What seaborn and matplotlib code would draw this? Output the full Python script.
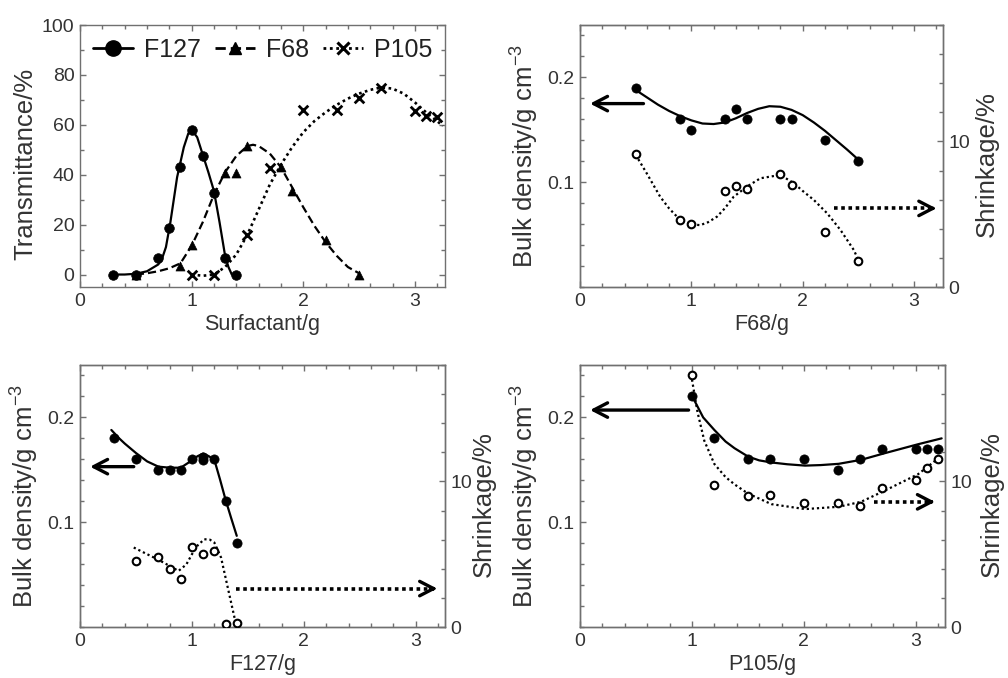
import numpy as np
import pandas as pd
import matplotlib
matplotlib.use("Agg")
import matplotlib.pyplot as plt
from matplotlib.lines import Line2D
from matplotlib.ticker import MultipleLocator
import seaborn as sns

sns.set_style("ticks")
plt.rcParams['font.family'] = ['Liberation Sans', 'DejaVu Sans']
plt.rcParams['mathtext.fontset'] = 'custom'
plt.rcParams['mathtext.rm'] = 'Liberation Sans'

TXT = '#333333'
SPN = '#707070'

# ---------------- Panel 1: transmittance ----------------
f127_x = [0.3, 0.5, 0.7, 0.8, 0.9, 1.0, 1.1, 1.2, 1.3, 1.4]
f127_t = [0, 0, 6.7, 18.5, 43, 58, 47.5, 32.5, 6.7, 0]
f68_x = [0.5, 0.9, 1.0, 1.3, 1.4, 1.5, 1.8, 1.9, 2.2, 2.5]
f68_t = [0, 3.5, 12, 40.8, 40.8, 51.7, 43.2, 33.4, 13.8, 0]
p105_x = [1.0, 1.2, 1.5, 1.7, 2.0, 2.3, 2.5, 2.7, 3.0, 3.1, 3.2]
p105_t = [0, 0, 16, 42.8, 66, 66, 70.6, 74.6, 65.6, 63.5, 63]

f127_fit_x = [0.3, 0.4, 0.5, 0.6, 0.7, 0.73, 0.77, 0.81, 0.87, 0.93, 0.97, 1.0, 1.05, 1.1, 1.15, 1.2, 1.25, 1.3, 1.33, 1.36]
f127_fit_t = [0, 0, 0.3, 1.3, 4, 5.7, 11, 21, 39, 51, 56.5, 58, 55, 48, 41, 33.5, 21, 7.5, 3, 0]
f68_fit_x = [0.5, 0.6, 0.7, 0.8, 0.9, 1.0, 1.1, 1.2, 1.3, 1.4, 1.5, 1.55, 1.6, 1.7, 1.8, 1.9, 2.0, 2.1, 2.2, 2.3, 2.4, 2.5]
f68_fit_t = [0, 0.5, 1.3, 2.5, 4.5, 11.5, 21, 32, 41, 47.5, 51.5, 52, 51.5, 48.5, 43, 35, 27, 19.5, 13, 7.5, 3, 0.5]
p105_fit_x = [1.0, 1.1, 1.2, 1.3, 1.4, 1.5, 1.6, 1.7, 1.8, 1.9, 2.0, 2.1, 2.2, 2.3, 2.4, 2.5, 2.6, 2.7, 2.8, 2.9, 3.0, 3.1, 3.2, 3.25]
p105_fit_t = [0, -0.5, 0, 3, 8, 16, 26, 36, 44, 51, 57, 61.5, 65, 68, 70.5, 72.5, 74, 75, 74.5, 72.5, 69, 65, 61.5, 59.5]

# ---------------- Panel 2: F68 ----------------
f68_x2 = [0.5, 0.9, 1.0, 1.3, 1.4, 1.5, 1.8, 1.9, 2.2, 2.5]
f68_bd = [0.19, 0.16, 0.15, 0.16, 0.17, 0.16, 0.16, 0.16, 0.14, 0.12]
f68_sh = [9.15, 4.6, 4.3, 6.6, 6.95, 6.7, 7.75, 7.0, 3.8, 1.77]
f68_bdfit_x = [0.5, 0.6, 0.7, 0.8, 0.9, 1.0, 1.1, 1.2, 1.3, 1.4, 1.5, 1.6, 1.7, 1.8, 1.9, 2.0, 2.1, 2.2, 2.3, 2.4, 2.5]
f68_bdfit = [0.188, 0.181, 0.174, 0.168, 0.163, 0.159, 0.156, 0.1555, 0.157, 0.161, 0.166, 0.170, 0.1725, 0.172, 0.169, 0.164, 0.157, 0.149, 0.140, 0.131, 0.1215]
f68_shfit_x = [0.5, 0.6, 0.72, 0.8, 0.9, 1.0, 1.08, 1.15, 1.23, 1.3, 1.38, 1.5, 1.62, 1.8, 1.92, 2.0, 2.1, 2.22, 2.34, 2.46, 2.5]
f68_shfit = [9.08, 7.8, 6.2, 5.4, 4.6, 4.3, 4.25, 4.45, 4.83, 5.4, 6.2, 6.9, 7.47, 7.7, 7.13, 6.6, 5.98, 5.06, 3.91, 2.53, 1.84]

# ---------------- Panel 3: F127 ----------------
f127_x3 = [0.3, 0.5, 0.7, 0.8, 0.9, 1.0, 1.1, 1.1, 1.2, 1.3, 1.4]
f127_bd = [0.18, 0.16, 0.15, 0.15, 0.15, 0.16, 0.159, 0.162, 0.16, 0.12, 0.08]
f127_shx = [0.5, 0.7, 0.8, 0.9, 1.0, 1.1, 1.2, 1.3, 1.4]
f127_sh = [4.54, 4.84, 4.0, 3.3, 5.5, 5.0, 5.2, 0.18, 0.3]
f127_bdfit_x = [0.28, 0.35, 0.4, 0.5, 0.6, 0.7, 0.8, 0.9, 1.0, 1.05, 1.1, 1.15, 1.2, 1.25, 1.3, 1.35, 1.4]
f127_bdfit = [0.188, 0.180, 0.175, 0.166, 0.158, 0.153, 0.152, 0.152, 0.159, 0.163, 0.1655, 0.163, 0.1595, 0.141, 0.1215, 0.104, 0.087]
f127_shfit_x = [0.48, 0.6, 0.69, 0.8, 0.88, 0.95, 1.0, 1.05, 1.11, 1.16, 1.2, 1.26, 1.32, 1.38, 1.4]
f127_shfit = [5.46, 5.0, 4.66, 4.2, 3.85, 4.3, 5.0, 5.6, 6.03, 6.0, 5.8, 4.77, 2.7, 0.64, 0.07]

# ---------------- Panel 4: P105 ----------------
p105_x4 = [1.0, 1.2, 1.5, 1.7, 2.0, 2.3, 2.5, 2.7, 3.0, 3.1, 3.2]
p105_bd = [0.22, 0.18, 0.16, 0.16, 0.16, 0.15, 0.16, 0.17, 0.17, 0.17, 0.17]
p105_sh = [17.3, 9.77, 9.0, 9.06, 8.5, 8.5, 8.28, 9.54, 10.09, 10.9, 11.54]
p105_bdfit_x = [1.02, 1.1, 1.2, 1.3, 1.38, 1.5, 1.6, 1.71, 1.85, 2.01, 2.15, 2.31, 2.51, 2.72, 3.02, 3.23]
p105_bdfit = [0.2165, 0.200, 0.188, 0.177, 0.1706, 0.1627, 0.159, 0.157, 0.1553, 0.154, 0.1545, 0.1557, 0.1595, 0.1658, 0.1744, 0.18]
p105_shfit_x = [1.0, 1.05, 1.11, 1.2, 1.3, 1.38, 1.5, 1.71, 2.01, 2.31, 2.51, 2.72, 3.02, 3.23]
p105_shfit = [17.0, 14.75, 12.8, 11.2, 10.3, 9.8, 9.17, 8.44, 8.1, 8.26, 8.6, 9.36, 10.5, 11.77]

legend_labels = ['F127', 'F68', 'P105']
xlabels = ['Surfactant/g', 'F68/g', 'F127/g', 'P105/g']

W, H = 1008, 678
fig = plt.figure(figsize=(W / 100, H / 100), dpi=100)


def add_ax(l, t, r, b):
    return fig.add_axes([l / W, 1 - b / H, (r - l) / W, (b - t) / H])


ax1 = add_ax(80, 25, 445, 287)
ax2 = add_ax(580, 25, 943, 287)
ax3 = add_ax(80, 365, 445, 627)
ax4 = add_ax(580, 365, 945, 627)

TICK_FS = 14
XL_FS = 15.5
YL_FS = 18.5


def style_axis(ax, right=True):
    for s in ax.spines.values():
        s.set_color(SPN)
        s.set_linewidth(1.0)
    ax.tick_params(which='both', direction='in', colors=SPN, labelcolor=TXT,
                   labelsize=TICK_FS, top=True, right=right, width=1.0)
    ax.tick_params(which='major', length=4.5, pad=4)
    ax.tick_params(which='minor', length=3)


def line(ax, x, y, ls, lw=1.6):
    df = pd.DataFrame({'x': x, 'y': y})
    sns.lineplot(data=df, x='x', y='y', ax=ax, sort=False, estimator=None,
                 color='black', lw=lw)
    ln = ax.lines[-1]
    if ls == 'dash':
        ln.set_dashes([3.7, 1.8])
    elif ls == 'dot':
        ln.set_dashes([1.0, 1.3])
        ln.set_dash_capstyle('butt')
    return ln


def pts(ax, x, y, marker='o', filled=True, s=42, lw=1.3):
    df = pd.DataFrame({'x': x, 'y': y})
    if marker == 'x':
        sns.scatterplot(data=df, x='x', y='y', ax=ax, marker='x', s=s,
                        color='black', linewidth=2.0, zorder=5)
    elif filled:
        sns.scatterplot(data=df, x='x', y='y', ax=ax, marker=marker, s=s,
                        color='black', edgecolor='black', linewidth=0.5, zorder=5)
    else:
        sns.scatterplot(data=df, x='x', y='y', ax=ax, marker=marker, s=s,
                        facecolor='white', edgecolor='black', linewidth=lw, zorder=5)


# ---------- Panel 1 ----------
line(ax1, f127_fit_x, f127_fit_t, 'solid')
line(ax1, f68_fit_x, f68_fit_t, 'dash')
line(ax1, p105_fit_x, p105_fit_t, 'dot', lw=1.9)
pts(ax1, f127_x, f127_t, 'o', s=48)
pts(ax1, f68_x, f68_t, '^', s=42)
pts(ax1, p105_x, p105_t, 'x', s=48)
ax1.set_xlim(0, 3.27)
ax1.set_ylim(-5, 100)
ax1.xaxis.set_major_locator(MultipleLocator(1))
ax1.xaxis.set_minor_locator(MultipleLocator(0.2))
ax1.yaxis.set_major_locator(MultipleLocator(20))
ax1.yaxis.set_minor_locator(MultipleLocator(10))
style_axis(ax1, right=True)
ax1.set_xlabel(xlabels[0], fontsize=XL_FS, color=TXT, labelpad=3)
ax1.set_ylabel('Transmittance/%', fontsize=YL_FS, color=TXT)
ax1.yaxis.set_label_coords(-0.117, 0.47)

handles = [
    Line2D([], [], color='black', lw=2.0, marker='o', markersize=11),
    Line2D([], [], color='black', lw=2.0, dashes=[3.7, 1.8], marker='^', markersize=8),
    Line2D([], [], color='black', lw=2.0, dashes=[1.0, 1.3], marker='x', markersize=9, mew=2.2),
]
leg = ax1.legend(handles, legend_labels, loc='center', bbox_to_anchor=(0.5, 0.905),
                 ncol=3, frameon=False, fontsize=18, handlelength=1.6,
                 handletextpad=0.45, columnspacing=0.55, borderpad=0, borderaxespad=0)
for t in leg.get_texts():
    t.set_color('#222222')


def dual_panel(ax, xlab, x, bd, shx, sh, bfx, bfy, sfx, sfy, arrL, arrR, rlab_x=1.09):
    ax2_ = ax.twinx()
    line(ax, bfx, bfy, 'solid')
    pts(ax, x, bd, 'o', s=44)
    line(ax2_, sfx, sfy, 'dot', lw=1.6)
    pts(ax2_, shx, sh, 'o', filled=False, s=30, lw=1.5)
    ax.set_xlim(0, 3.26)
    ax.set_ylim(0, 0.25)
    ax2_.set_ylim(0, 18)
    ax.xaxis.set_major_locator(MultipleLocator(1))
    ax.xaxis.set_minor_locator(MultipleLocator(0.2))
    ax.set_yticks([0.1, 0.2])
    ax.set_yticklabels(['0.1', '0.2'])
    ax.yaxis.set_minor_locator(MultipleLocator(0.02))
    ax2_.set_yticks([0, 10])
    ax2_.yaxis.set_minor_locator(MultipleLocator(2))
    style_axis(ax, right=False)
    style_axis(ax2_, right=True)
    ax2_.tick_params(which='both', top=False)
    ax.set_xlabel(xlab, fontsize=XL_FS, color=TXT, labelpad=3)
    ax.set_ylabel('Bulk density/g cm$^{-3}$', fontsize=YL_FS, color=TXT)
    ax.yaxis.set_label_coords(-0.11, 0.5)
    ax2_.set_ylabel('Shrinkage/%', fontsize=YL_FS, color=TXT)
    ax2_.yaxis.set_label_coords(rlab_x, 0.47)
    ax2_.set_xlabel('')
    # left (solid) arrow
    (lx0, lx1, ly) = arrL
    ax.annotate('', xy=(lx1, ly), xytext=(lx0, ly),
                arrowprops=dict(arrowstyle='->,head_length=0.5,head_width=0.26',
                                lw=2.4, color='black', mutation_scale=20,
                                shrinkA=0, shrinkB=0))
    # right (dotted) arrow
    (rx0, rx1, ry) = arrR
    ax2_.plot([rx0, rx1 - 0.03], [ry, ry], color='black', lw=2.6,
              dashes=[1.0, 1.0], dash_capstyle='butt')
    ax2_.annotate('', xy=(rx1, ry), xytext=(rx1 - 0.06, ry),
                  arrowprops=dict(arrowstyle='->,head_length=0.5,head_width=0.26',
                                  lw=2.4, color='black', mutation_scale=20,
                                  shrinkA=0, shrinkB=0))
    return ax2_


dual_panel(ax2, xlabels[1], f68_x2, f68_bd, f68_x2, f68_sh,
           f68_bdfit_x, f68_bdfit, f68_shfit_x, f68_shfit,
           (0.57, 0.09, 0.175), (2.28, 3.2, 5.4), rlab_x=1.088)
dual_panel(ax3, xlabels[2], f127_x3, f127_bd, f127_shx, f127_sh,
           f127_bdfit_x, f127_bdfit, f127_shfit_x, f127_shfit,
           (0.48, 0.09, 0.153), (1.39, 3.19, 2.64), rlab_x=1.074)
dual_panel(ax4, xlabels[3], p105_x4, p105_bd, p105_x4, p105_sh,
           p105_bdfit_x, p105_bdfit, p105_shfit_x, p105_shfit,
           (0.97, 0.09, 0.207), (2.63, 3.17, 8.6), rlab_x=1.096)

fig.savefig('out.png', dpi=100, facecolor='white')
